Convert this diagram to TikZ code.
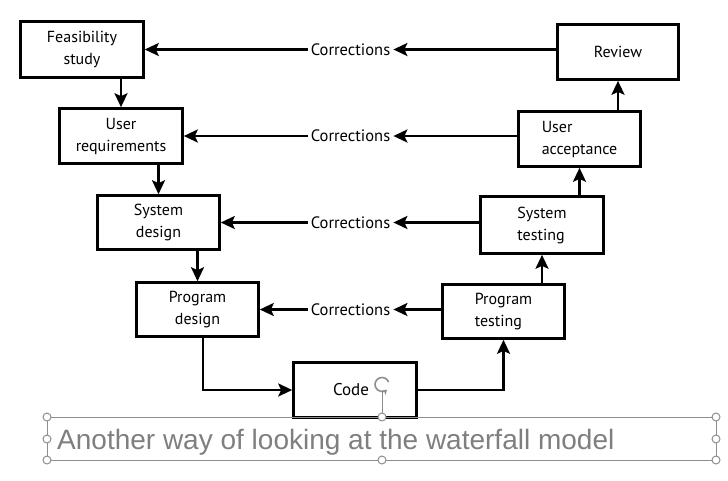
\documentclass[tikz,border=0pt]{standalone}
\usepackage{fontspec}
\setmainfont{PT Sans}
\newfontfamily\capfont{Liberation Sans}
\usetikzlibrary{arrows.meta}
\definecolor{capgray}{HTML}{7F7F7F}
\definecolor{selgray}{HTML}{8E8E8E}
\begin{document}
\begin{tikzpicture}[x=1pt,y=-1pt,
  box/.style={draw=black, line width=2.6pt, fill=white, inner sep=0pt,
    font=\fontsize{16}{22}\selectfont, align=center},
  lbox/.style={box, align=left},
  conn/.style={line width=2.6pt, -{Stealth[length=14pt,width=13pt,inset=3pt]}},
  corr/.style={inner xsep=3pt, inner ysep=0pt, font=\fontsize{16.5}{18}\selectfont},
  sel/.style={draw=selgray, line width=1pt},
  handle/.style={sel, fill=white}
]
\useasboundingbox (0,0) rectangle (728,480);
\fill[white] (0,0) rectangle (728,480);

% left (descending) boxes
\node[box, minimum width=123pt, minimum height=56pt] (feas) at (82,49.5) {Feasibility\\study};
\node[box, minimum width=123pt, minimum height=55pt] (ur) at (121,136) {User\\requirements};
\node[box, minimum width=122pt, minimum height=54pt] (sd) at (158.5,222.5) {System\\design};
\node[box, minimum width=122pt, minimum height=54pt] (pd) at (197.5,309.5) {Program\\design};
% bottom
\node[box, minimum width=123pt, minimum height=55pt] (code) at (355,390) {\fontsize{17}{22}\selectfont Code\hspace{8pt}};
% right (ascending) boxes
\node[lbox, minimum width=122pt, minimum height=54pt] (pt) at (503.5,311.5) {Program\\testing};
\node[lbox, minimum width=123pt, minimum height=57pt] (st) at (542,225) {System\\testing};
\node[lbox, minimum width=122pt, minimum height=55pt] (ua) at (579.5,139) {User\\acceptance};
\node[box, minimum width=121pt, minimum height=55pt] (rev) at (618,52) {Review};

% corrections labels
\coordinate (cx) at (350.5,0);
\node[corr] (c1) at (feas.east -| cx) {Corrections};
\node[corr] (c2) at (ur.east -| cx) {Corrections};
\node[corr] (c3) at (sd.east -| cx) {Corrections};
\node[corr] (c4) at (pd.east -| cx) {Corrections};

% corrections arrows
\draw[conn] (rev.west |- c1) -- (c1.east);
\draw[conn] (c1.west) -- (feas.east);
\draw[conn] (ua.west |- c2) -- (c2.east);
\draw[conn] (c2.west) -- (ur.east);
\draw[conn] (st.west |- c3) -- (c3.east);
\draw[conn] (c3.west) -- (sd.east);
\draw[conn] (pt.west |- c4) -- (c4.east);
\draw[conn] (c4.west) -- (pd.east);

% descending flow
\draw[conn] (feas.south -| ur.north) -- (ur.north);
\draw[conn] (ur.south -| sd.north) -- (sd.north);
\draw[conn] (sd.south -| pd.north) -- (pd.north);
\draw[conn] ([xshift=5.5pt]pd.south) |- (code.west);
% ascending flow
\draw[conn] (code.east) -| (pt.south);
\draw[conn] (pt.north -| st.south) -- (st.south);
\draw[conn] (st.north -| ua.south) -- (ua.south);
\draw[conn] (ua.north -| rev.south) -- (rev.south);

% selection frame of the caption
\draw[sel] (47,417) rectangle (716,460);
\draw[sel] (382,392) -- (382,417);
\draw[sel, line width=1.6pt, -{Stealth[length=5pt,width=6pt]}] (382,384.5) ++(20:7pt) arc[start angle=20, end angle=315, radius=7pt];
\foreach \hx/\hy in {47/417, 382/417, 716/417, 47/439, 716/439, 47/460, 382/460, 716/460}
  \draw[handle] (\hx,\hy) circle[radius=4pt];

\node[anchor=base west, inner sep=0pt, text=capgray,
  font=\capfont\fontsize{28}{32}\selectfont] (cap) at (57,449)
  {Another way of looking at the waterfall model};
\end{tikzpicture}
\end{document}
